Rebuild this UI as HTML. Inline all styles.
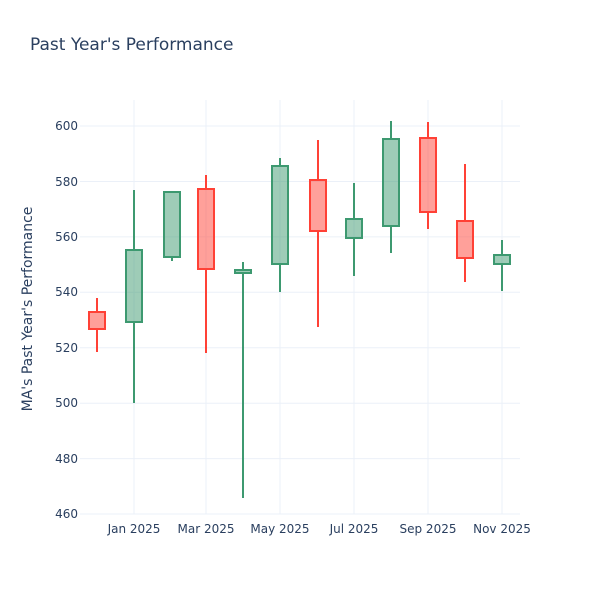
<!DOCTYPE html>
<html><head><style>
body{margin:0;background:#fff;}
svg text{font-family:"DejaVu Sans",sans-serif;fill:#2a3f5f;}
</style></head><body>
<svg width="600" height="600" xmlns="http://www.w3.org/2000/svg">
<rect width="600" height="600" fill="#fff"/>
<text x="30" y="50" font-size="17">Past Year's Performance</text>
<g stroke="#ebf0f8" stroke-width="1">
<line x1="80" x2="520" y1="514" y2="514"/>
<line x1="80" x2="520" y1="458.6" y2="458.6"/>
<line x1="80" x2="520" y1="403.2" y2="403.2"/>
<line x1="80" x2="520" y1="347.7" y2="347.7"/>
<line x1="80" x2="520" y1="292.3" y2="292.3"/>
<line x1="80" x2="520" y1="236.9" y2="236.9"/>
<line x1="80" x2="520" y1="181.5" y2="181.5"/>
<line x1="80" x2="520" y1="126" y2="126"/>
<line x1="134" x2="134" y1="100" y2="514"/>
<line x1="206" x2="206" y1="100" y2="514"/>
<line x1="280" x2="280" y1="100" y2="514"/>
<line x1="354" x2="354" y1="100" y2="514"/>
<line x1="428" x2="428" y1="100" y2="514"/>
<line x1="502" x2="502" y1="100" y2="514"/>
</g>
<g font-size="12" text-anchor="end">
<text x="78" y="518">460</text><text x="78" y="463">480</text><text x="78" y="407">500</text>
<text x="78" y="352">520</text><text x="78" y="296">540</text><text x="78" y="241">560</text>
<text x="78" y="186">580</text><text x="78" y="130">600</text>
</g>
<g font-size="12" text-anchor="middle">
<text x="134" y="533">Jan 2025</text><text x="206" y="533">Mar 2025</text><text x="280" y="533">May 2025</text>
<text x="354" y="533">Jul 2025</text><text x="428" y="533">Sep 2025</text><text x="502" y="533">Nov 2025</text>
</g>
<text transform="translate(32,309) rotate(-90)" font-size="14" text-anchor="middle">MA's Past Year's Performance</text>
<g stroke-width="2">
<g stroke="#FF4136" fill="rgba(255,65,54,0.5)">
<path d="M97 298V312M97 329V352"/><rect x="89" y="312" width="16" height="17"/>
<path d="M206 175V189M206 269V353"/><rect x="198" y="189" width="16" height="80"/>
<path d="M318 140V180M318 231V327"/><rect x="310" y="180" width="16" height="51"/>
<path d="M428 122V138M428 212V229"/><rect x="420" y="138" width="16" height="74"/>
<path d="M465 164V221M465 258V282"/><rect x="457" y="221" width="16" height="37"/>
</g>
<g stroke="#3D9970" fill="rgba(61,153,112,0.5)">
<path d="M134 190V250M134 322V403"/><rect x="126" y="250" width="16" height="72"/>
<path d="M172 257V261"/><rect x="164" y="192" width="16" height="65"/>
<path d="M243 262V270M243 273V498"/><rect x="235" y="270" width="16" height="3"/>
<path d="M280 158V166M280 264V292"/><rect x="272" y="166" width="16" height="98"/>
<path d="M354 183V219M354 238V276"/><rect x="346" y="219" width="16" height="19"/>
<path d="M391 121V139M391 226V253"/><rect x="383" y="139" width="16" height="87"/>
<path d="M502 240V255M502 264V291"/><rect x="494" y="255" width="16" height="9"/>
</g>
</g>
</svg>
</body></html>
